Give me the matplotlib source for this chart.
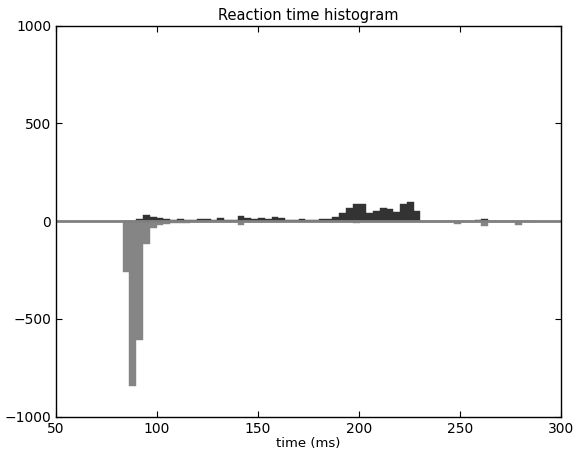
import numpy as np
import matplotlib
matplotlib.use('Agg')
import matplotlib.pyplot as plt

# histogram bins (ms)
bin_start = 83.0
bin_width = 3.35

# counts per bin, first condition drawn upwards
counts_up = [0, 3, 10, 31, 20, 15, 10, 8, 10, 6,
             8, 13, 12, 5, 18, 6, 6, 27, 17, 12,
             17, 12, 20, 15, 8, 8, 10, 8, 8, 10,
             10, 22, 43, 65, 87, 87, 44, 51, 70, 61,
             48, 87, 100, 54, 3, 2, 3, 2, 3, 2,
             2, 3, 5, 13, 3, 2, 2, 2, 2, 1, 1]

# counts per bin, second condition drawn downwards
counts_down = [258, 845, 608, 118, 37, 20, 12, 10, 8, 8,
               6, 6, 5, 5, 5, 4, 3, 20, 5, 4,
               4, 3, 3, 3, 3, 3, 2, 2, 2, 2,
               2, 3, 4, 5, 8, 5, 3, 3, 3, 2,
               2, 3, 3, 2, 3, 3, 4, 6, 5, 12,
               5, 4, 6, 24, 5, 3, 3, 4, 20, 3, 2]

x_ticks = [50, 100, 150, 200, 250, 300]
y_ticks = [-1000, -500, 0, 500, 1000]

edges = bin_start + bin_width * np.arange(len(counts_up))

plt.rcParams['font.family'] = 'DejaVu Sans'
plt.rcParams['axes.unicode_minus'] = True
fig = plt.figure(figsize=(5.81, 4.58), dpi=100)
ax = fig.add_axes([0.0964, 0.0902, 0.8692, 0.8537])

ax.bar(edges, counts_up, width=bin_width, align='edge',
       color='#333333', edgecolor='#333333', linewidth=0.3)
ax.bar(edges, -np.array(counts_down), width=bin_width, align='edge',
       color='#858585', edgecolor='#858585', linewidth=0.3)
ax.axhline(0, color='#808080', linewidth=2)

ax.set_xlim(50, 300)
ax.set_ylim(-1000, 1000)
ax.set_xticks(x_ticks)
ax.set_yticks(y_ticks)
ax.set_yticklabels([str(v).replace('-', '\u2212') for v in y_ticks])
ax.tick_params(direction='in', length=4, top=True, right=True, labelsize=10)
for s in ax.spines.values():
    s.set_linewidth(1)

ax.set_title('Reaction time histogram', fontsize=10.5, pad=4)
ax.set_xlabel('time (ms)', fontsize=9.5, labelpad=1)

fig.savefig('out.png', dpi=100)
